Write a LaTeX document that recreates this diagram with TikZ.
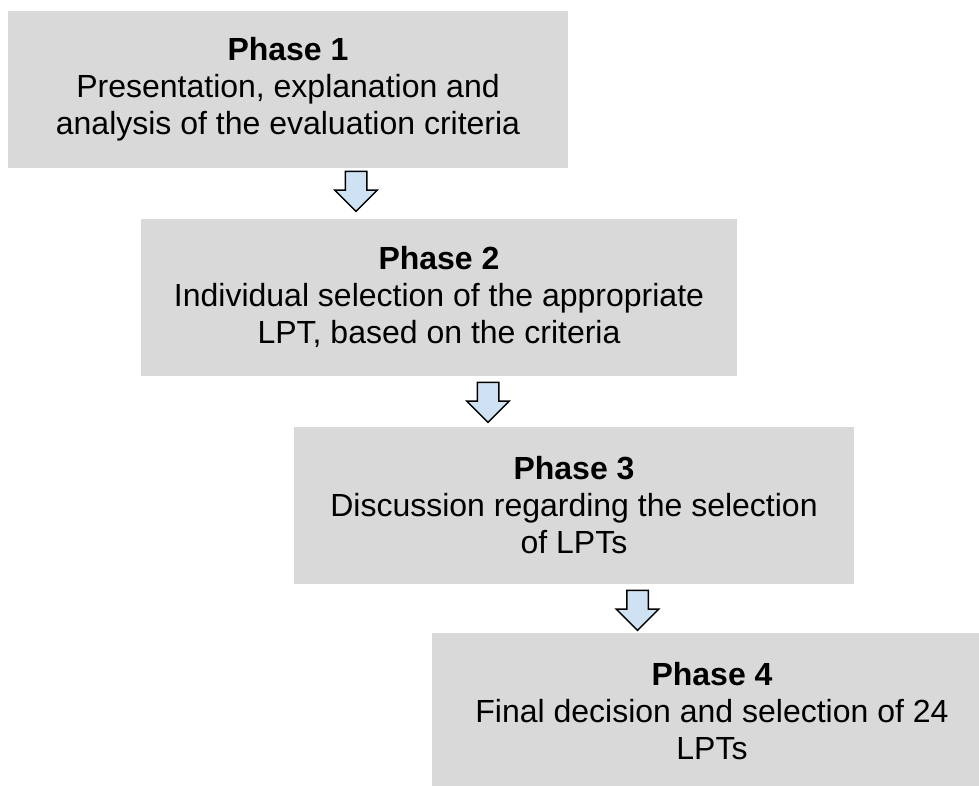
\documentclass[tikz,border=0pt]{standalone}
\usepackage{fontspec}
\setmainfont{Liberation Sans}
\usepackage{tikz}
\usetikzlibrary{shapes.arrows}
\definecolor{boxColor}{RGB}{217,217,217}
\definecolor{arrowColor}{RGB}{207,226,243}

\begin{document}
\begin{tikzpicture}[x=1pt,y=-1pt]

          \tikzstyle{phaseNode} = [fill=boxColor, minimum width=560pt, minimum height=157pt, inner sep=0pt, align=center, font=\fontsize{32}{37}\selectfont];
          \tikzstyle{arrowNode} = [single arrow, draw=black, line width=1.5pt, fill=arrowColor, rotate=-90, minimum height=40pt, inner xsep=0pt, inner ysep=10pt, single arrow head extend=10.5pt];

          \useasboundingbox (0,0) rectangle (979,785);

          \node[phaseNode] (p1) at (288,89.5) {\textbf{Phase 1}\\Presentation, explanation and\\analysis of the evaluation criteria};
          \node[phaseNode, minimum width=596pt] (p2) at (439,297) {\textbf{Phase 2}\\Individual selection of the appropriate\\LPT, based on the criteria};
          \node[phaseNode] (p3) at (574,505) {\textbf{Phase 3}\\Discussion regarding the selection\\of LPTs};
          \node[phaseNode] (p4) at (712,711.5) {\textbf{Phase 4}\\Final decision and selection of 24\\LPTs};

          \node[arrowNode] (a1) at (356,186) {};
          \node[arrowNode] (a2) at (488,397) {};
          \node[arrowNode] (a3) at (637.5,605) {};
        \end{tikzpicture}
\end{document}
